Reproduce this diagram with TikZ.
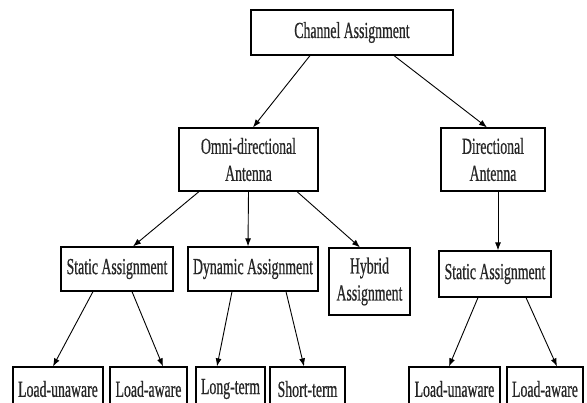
\documentclass[tikz,border=0pt]{standalone}
\usepackage{fontspec}
\setmainfont{Liberation Serif}[FakeStretch=0.6,FakeBold=0.6]
\usetikzlibrary{arrows.meta}
\tikzset{chanbox/.style={draw,line width=1.2pt,inner sep=0pt,align=center,
    font=\fontsize{23}{27}\selectfont,text=black!85},
  chanarrow/.style={line width=0.9pt,-{Latex[length=8pt,width=6pt]}}}

\begin{document}
\begin{tikzpicture}[x=1pt,y=-1pt]
\useasboundingbox (0,0) rectangle (587,403);
\clip (0,0) rectangle (587,403);
% top levels
\node (chan)  [chanbox,minimum width=202pt,minimum height=45pt] at (352,32.5) {Channel Assignment};
\node (omni)  [chanbox,minimum width=139pt,minimum height=63pt] at (248.5,159.5) {Omni-directional\\Antenna};
\node (dir)   [chanbox,minimum width=104pt,minimum height=63pt] at (493,159.5) {Directional\\Antenna};
\node (statL) [chanbox,minimum width=112pt,minimum height=44pt] at (117,269) {Static Assignment};
\node (dyn)   [chanbox,minimum width=130pt,minimum height=44pt] at (253,269) {Dynamic Assignment};
\node (hyb)   [chanbox,minimum width=81pt,minimum height=67pt] at (369.5,281.5) {Hybrid\\Assignment};
\node (statR) [chanbox,minimum width=112pt,minimum height=46pt] at (495,274) {Static Assignment};
% leaves, cut by the bottom edge
\node (luL) [chanbox,minimum width=90pt,minimum height=44pt] at (58,389) {Load-unaware};
\node (laL) [chanbox,minimum width=77pt,minimum height=44pt] at (148.5,389) {Load-aware};
\node (lt)  [chanbox,minimum width=69pt,minimum height=44pt] at (230.5,389) {Long-term};
\node (st)  [chanbox,minimum width=75pt,minimum height=44pt] at (307.5,389) {Short-term};
\node (luR) [chanbox,minimum width=91pt,minimum height=44pt] at (454.5,389) {Load-unaware};
\node (laR) [chanbox,minimum width=76pt,minimum height=44pt] at (545,389) {Load-aware};
% arrows
\draw[chanarrow] ([xshift=-42pt]chan.south) -- ([xshift=4.5pt]omni.north);
\draw[chanarrow] ([xshift=42pt]chan.south)  -- ([xshift=-6pt]dir.north);
\draw[chanarrow] ([xshift=-49.5pt]omni.south) -- ([xshift=16pt]statL.north);
\draw[chanarrow] (omni.south) -- ([xshift=-5pt]dyn.north);
\draw[chanarrow] ([xshift=48.5pt]omni.south) -- ([xshift=-9.5pt]hyb.north);
\draw[chanarrow] ([xshift=5pt]dir.south) -- ([xshift=3pt]statR.north);
\draw[chanarrow] ([xshift=-24pt]statL.south) -- ([xshift=-5pt]luL.north);
\draw[chanarrow] ([xshift=15pt]statL.south)  -- ([xshift=14.5pt]laL.north);
\draw[chanarrow] ([xshift=-21pt]dyn.south) -- ([xshift=-13.5pt]lt.north);
\draw[chanarrow] ([xshift=33pt]dyn.south)  -- ([xshift=-3.5pt]st.north);
\draw[chanarrow] ([xshift=-17pt]statR.south) -- ([xshift=-5.5pt]luR.north);
\draw[chanarrow] ([xshift=31pt]statR.south)  -- ([xshift=12pt]laR.north);
\end{tikzpicture}
\end{document}
